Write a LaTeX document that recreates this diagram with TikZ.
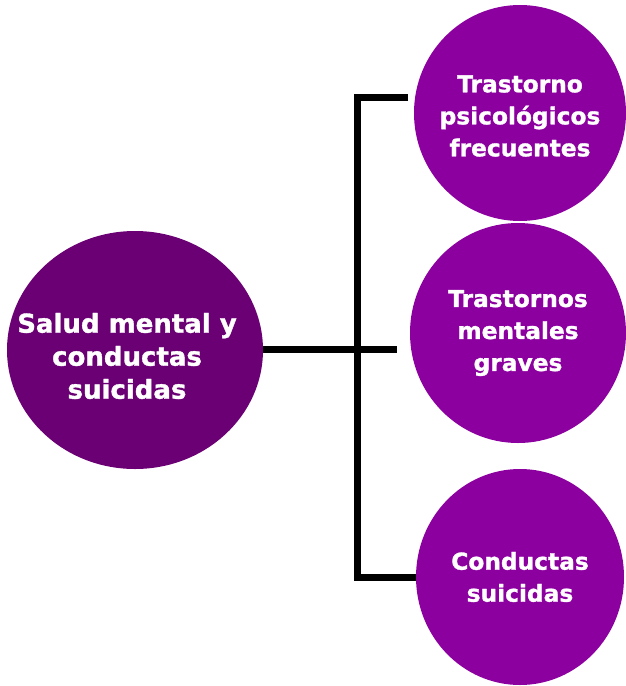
\documentclass[tikz,border=0pt]{standalone}
\usepackage{fontspec}
\setsansfont{DejaVu Sans}[BoldFeatures={FakeBold=1.3}]
\usetikzlibrary{shapes.geometric,positioning}
\definecolor{darkplum}{RGB}{107,0,116}
\definecolor{brightplum}{RGB}{140,0,160}
\tikzset{
     caption/.style={text=white, align=center, font=\sffamily\bfseries\fontsize{23.3}{32}\selectfont},
     bigcaption/.style={caption, font=\sffamily\bfseries\fontsize{26}{33}\selectfont},
      topic/.style   = {ellipse, fill=darkplum, minimum width=256pt, minimum height=238pt},
      subtopic/.style = {ellipse, fill=brightplum, minimum width=#1},
      trunk/.style = {black, line width=7pt, line join=miter},
    }

\begin{document}
\begin{tikzpicture}[x=1pt,y=-1pt]
        \useasboundingbox (0,0) rectangle (625,686);
        \node [topic, label={[bigcaption,xshift=-8pt,yshift=-6pt]center:{Salud mental y\\conductas\\suicidas}}] (main) at (135,350) {};
        \node [subtopic=212pt, minimum height=216pt, label={[caption,yshift=-3pt]center:{Trastorno\\psicológicos\\frecuentes}}] (a) at (520,113) {};
        \node [subtopic=216pt, minimum height=220pt, label={[caption]center:{Trastornos\\mentales\\graves}}] (b) at (518,333) {};
        \node [subtopic=208pt, minimum height=216pt, label={[caption]center:{Conductas\\suicidas}}] (c) at (520,577) {};
        \coordinate (j1) at (357,97);
        \coordinate (hub) at (357,349);
        \coordinate (j3) at (357,577);
        \coordinate (ea) at (408,97);
        \coordinate (eb) at (397,349);
        \draw[trunk] (ea) -- (j1) -- (j3) -- (c);
        \draw[trunk] (main.east |- hub) -- (eb);
    \end{tikzpicture}
\end{document}
